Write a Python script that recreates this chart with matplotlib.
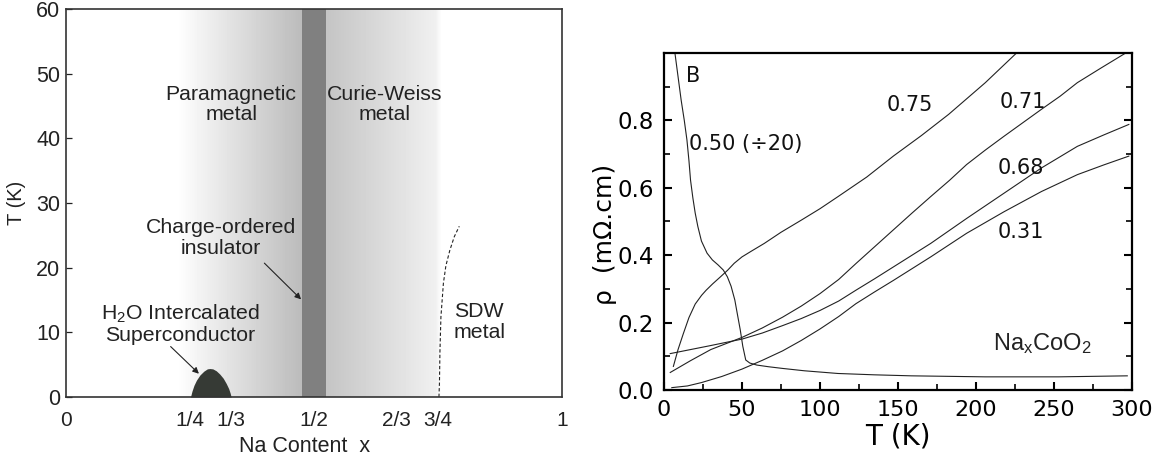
import numpy as np
import matplotlib
matplotlib.use("Agg")
import matplotlib.pyplot as plt
from matplotlib.ticker import FixedLocator, FixedFormatter

plt.rcParams["font.family"] = ["Liberation Sans", "DejaVu Sans"]
plt.rcParams["mathtext.fontset"] = "custom"
plt.rcParams["mathtext.rm"] = "Liberation Sans"
plt.rcParams["mathtext.it"] = "Liberation Sans:italic"

# ---- left panel: phase diagram ----
frac_ticks = [0, 1/4, 1/3, 1/2, 2/3, 3/4, 1]
frac_labels = ["0", "1/4", "1/3", "1/2", "2/3", "3/4", "1"]
marked_x = [1/4, 1/3, 2/3, 3/4]

# shading (Na content x, gray level)
shade_x = [0.0, 0.224, 0.475, 0.475, 0.525, 0.525, 0.745, 0.758, 1.0]
shade_v = [1.0, 1.0, 0.735, 0.5, 0.5, 0.77, 0.94, 1.0, 1.0]

# superconducting dome
sc_x = [0.251, 0.254, 0.258, 0.263, 0.270, 0.278, 0.285, 0.290, 0.296,
        0.303, 0.310, 0.317, 0.323, 0.328, 0.331, 0.333]
sc_T = [0, 0.9, 1.8, 2.6, 3.4, 4.0, 4.35, 4.4, 4.35, 4.05, 3.55, 2.9,
        2.1, 1.3, 0.6, 0]

# SDW boundary (dashed)
sdw_x = [0.752, 0.753, 0.754, 0.756, 0.761, 0.766, 0.774, 0.783, 0.793]
sdw_T = [0, 2.1, 7, 12.4, 17.6, 20.3, 22.7, 24.8, 26.4]

# ---- right panel: resistivity ----
T_050 = [7, 9, 11, 13, 14.7, 16, 17, 18.5, 20, 21.7, 24, 27.6, 31, 34.7,
         38, 40.6, 43, 45.4, 47, 48.9, 50.5, 52.4, 55, 59.5, 67, 76, 90,
         111.5, 135, 158.7, 206, 253, 297]
rho_050 = [1.0, 0.93, 0.86, 0.80, 0.742, 0.68, 0.623, 0.57, 0.525, 0.485,
           0.442, 0.406, 0.386, 0.371, 0.356, 0.336, 0.308, 0.267, 0.226,
           0.178, 0.13, 0.089, 0.08, 0.074, 0.069, 0.064, 0.057, 0.049,
           0.045, 0.042, 0.039, 0.039, 0.042]

T_075 = [6, 9, 12.3, 16, 20, 24.1, 27, 31.2, 36, 40.7, 45, 50, 56, 64.3,
         75, 88, 100, 111.6, 130, 147, 165, 182.5, 206, 226]
rho_075 = [0.07, 0.12, 0.166, 0.215, 0.255, 0.281, 0.296, 0.315, 0.335,
           0.355, 0.376, 0.395, 0.412, 0.435, 0.468, 0.504, 0.538, 0.574,
           0.632, 0.694, 0.755, 0.818, 0.912, 1.0]

T_071 = [4, 17, 30, 50, 63, 76, 88, 100, 112, 123, 135, 147, 159, 171,
         183, 194, 206, 218, 230, 242, 254, 265, 280, 296]
rho_071 = [0.052, 0.087, 0.12, 0.156, 0.184, 0.216, 0.249, 0.286, 0.328,
           0.375, 0.425, 0.475, 0.525, 0.574, 0.622, 0.669, 0.712, 0.753,
           0.793, 0.833, 0.872, 0.912, 0.955, 1.0]

T_068 = [4, 29, 50, 63, 76, 88, 100, 112, 123, 135, 147, 171, 194, 218,
         242, 265, 282, 298]
rho_068 = [0.108, 0.131, 0.151, 0.169, 0.191, 0.212, 0.236, 0.264, 0.296,
           0.33, 0.365, 0.435, 0.509, 0.584, 0.659, 0.723, 0.757, 0.788]

T_031 = [5, 15, 24, 37, 50, 63, 76, 88, 100, 112, 123, 135, 147, 171, 194,
         218, 242, 265, 282, 298]
rho_031 = [0.007, 0.012, 0.022, 0.04, 0.062, 0.088, 0.116, 0.147, 0.181,
           0.218, 0.256, 0.291, 0.325, 0.395, 0.465, 0.529, 0.589, 0.639,
           0.668, 0.694]

curves = [(T_050, rho_050), (T_075, rho_075), (T_071, rho_071),
          (T_068, rho_068), (T_031, rho_031)]

fig = plt.figure(figsize=(11.56, 4.67), dpi=100)

# left axes
ax1 = fig.add_axes([0.0571, 0.1499, 0.429, 0.8308])
xs = np.linspace(0, 1, 2000)
gray = np.interp(xs, shade_x, shade_v)
ax1.imshow(gray[np.newaxis, :], cmap="gray", vmin=0, vmax=1, aspect="auto",
           extent=[0, 1, 0, 60], origin="lower", interpolation="nearest", zorder=0)
ax1.fill_between(sc_x, sc_T, 0, color="#363a35", lw=0, zorder=2)
ax1.plot(sdw_x, sdw_T, color="#222222", lw=0.8, dashes=(3, 2), zorder=2)
ax1.set_xlim(0, 1)
ax1.set_ylim(0, 60)
ax1.xaxis.set_major_locator(FixedLocator(frac_ticks))
ax1.xaxis.set_major_formatter(FixedFormatter(frac_labels))
ax1.xaxis.set_minor_locator(FixedLocator(marked_x))
ax1.tick_params(axis="x", which="major", length=0, pad=10, labelsize=15,
                colors="#222222")
ax1.tick_params(axis="x", which="minor", length=8, width=0.9, direction="in",
                color="#333333")
ax1.set_yticks(range(0, 61, 10))
ax1.tick_params(axis="y", length=4.5, width=0.9, direction="in", pad=4,
                labelsize=15.5, colors="#222222")
for sp in ax1.spines.values():
    sp.set_linewidth(1.2)
    sp.set_color("#333333")
ax1.set_xlabel("Na Content  x", fontsize=15.5, color="#222222")
ax1.xaxis.set_label_coords(0.482, -0.1)
ax1.set_ylabel("T (K)", fontsize=14.5, color="#222222")
ax1.yaxis.set_label_coords(-0.081, 0.5)

tkw = dict(fontsize=15.3, color="#222222", ha="center", va="center",
           linespacing=1.08, zorder=3)
ax1.text(0.333, 45.2, "Paramagnetic\nmetal", **tkw)
ax1.text(0.642, 45.2, "Curie-Weiss\nmetal", **tkw)
ax1.text(0.312, 24.6, "Charge-ordered\ninsulator", **tkw)
ax1.text(0.231, 11.3, "H$_2$O Intercalated\nSuperconductor", **tkw)
ax1.text(0.782, 11.6, "SDW\nmetal", fontsize=15.3, color="#222222",
         ha="left", va="center", linespacing=1.08)
akw = dict(arrowstyle="-|>", lw=0.8, color="#222222", mutation_scale=9,
           shrinkA=0, shrinkB=0)
ax1.annotate("", xy=(0.474, 15.1), xytext=(0.400, 20.7), arrowprops=akw)
ax1.annotate("", xy=(0.268, 3.6), xytext=(0.211, 7.8), arrowprops=akw)

# right axes
ax2 = fig.add_axes([0.5744, 0.1649, 0.4048, 0.7216])
for T, rho in curves:
    ax2.plot(T, rho, color="#222222", lw=0.8)
ax2.set_xlim(0, 300)
ax2.set_ylim(0, 1.0)
ax2.set_xticks(range(0, 301, 50))
ax2.set_xticks(range(25, 300, 50), minor=True)
ax2.set_yticks([0, 0.2, 0.4, 0.6, 0.8])
ax2.set_yticklabels(["0.0", "0.2", "0.4", "0.6", "0.8"])
ax2.set_yticks([0.1, 0.3, 0.5, 0.7, 0.9], minor=True)
ax2.tick_params(which="major", direction="in", length=5.5, width=1.5,
                left=True, right=True, top=False, labelsize=16.5, pad=7)
ax2.tick_params(axis="x", which="major", labelsize=16)
ax2.tick_params(which="minor", direction="in", length=4, width=1.2,
                left=True, right=True, top=False)
for lab in ax2.get_xticklabels() + ax2.get_yticklabels():
    lab.set_family("DejaVu Sans")
for sp in ax2.spines.values():
    sp.set_linewidth(1.6)
ax2.set_xlabel("T (K)", fontsize=20, family="DejaVu Sans")
ax2.xaxis.set_label_coords(0.5, -0.095)
ax2.set_ylabel("ρ  (mΩ.cm)", fontsize=18, family="DejaVu Sans")
ax2.yaxis.set_label_coords(-0.10, 0.463)

rkw = dict(fontsize=15, family="DejaVu Sans", color="#111111", va="center")
ax2.text(14.1, 0.932, "B", **rkw)
ax2.text(16.2, 0.730, "0.50 (÷20)", **rkw)
ax2.text(157.4, 0.846, "0.75", ha="center", **rkw)
ax2.text(230.3, 0.855, "0.71", ha="center", **rkw)
ax2.text(228.7, 0.660, "0.68", ha="center", **rkw)
ax2.text(228.8, 0.470, "0.31", ha="center", **rkw)
ax2.text(211, 0.139, "Na$_\\mathregular{x}$CoO$_2$", fontsize=17,
         color="#222222", va="center")

fig.savefig("out.png", dpi=100)
